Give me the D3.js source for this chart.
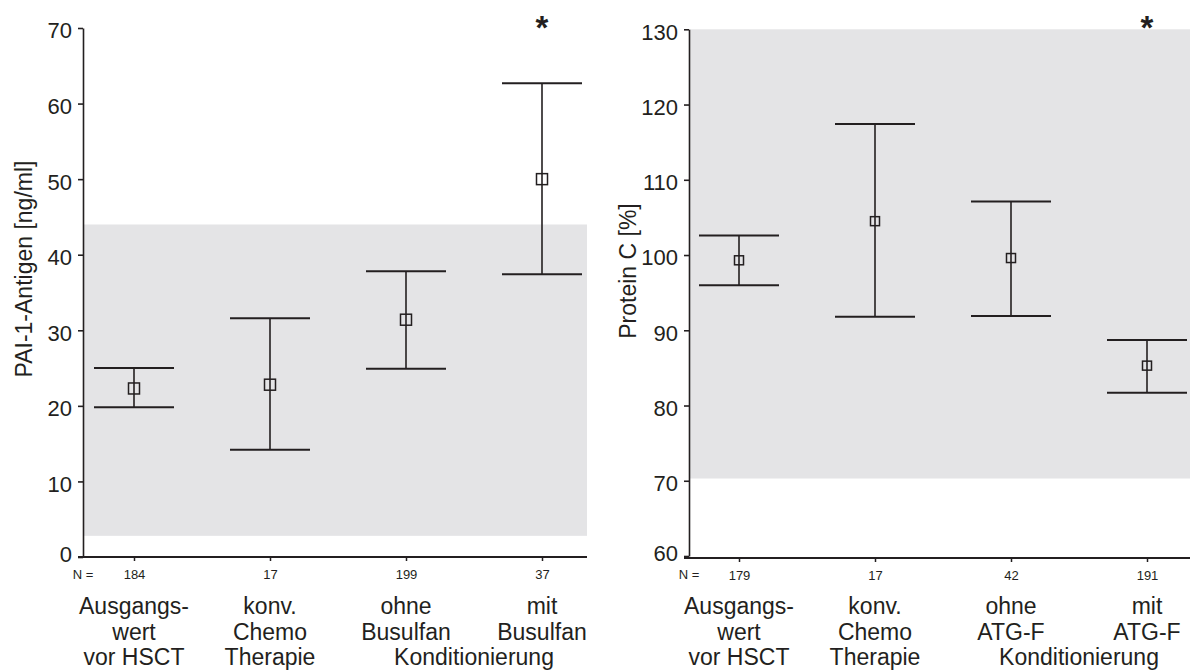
<!DOCTYPE html>
<html>
<head>
<meta charset="utf-8">
<script src="https://cdn.jsdelivr.net/npm/d3@7"></script>
<style>
  body { margin: 0; background: #fff; }
  text { font-family: "Liberation Sans", Arial, sans-serif; fill: #231f20; }
</style>
</head>
<body>
<div id="chart"></div>
<script>
// PAI-1-Antigen panel (left)
var paiCategories = ["ausgang", "chemo", "ohneBu", "mitBu"];
var paiN = [184, 17, 199, 37];
var paiMean = [22.3, 22.8, 31.4, 50.0];
var paiLower = [19.8, 14.2, 24.9, 37.4];
var paiUpper = [25.0, 31.6, 37.8, 62.7];
var paiNormal = [2.8, 44];
var paiTicks = [0, 10, 20, 30, 40, 50, 60, 70];
var paiLabels = [["Ausgangs-", "wert", "vor HSCT"], ["konv.", "Chemo", "Therapie"], ["ohne", "Busulfan"], ["mit", "Busulfan"]];

// Protein C panel (right)
var pcCategories = ["ausgang", "chemo", "ohneATG", "mitATG"];
var pcN = [179, 17, 42, 191];
var pcMean = [99.3, 104.5, 99.6, 85.3];
var pcLower = [96.0, 91.8, 91.9, 81.7];
var pcUpper = [102.6, 117.4, 107.1, 88.7];
var pcNormal = [70.3, 130];
var pcTicks = [60, 70, 80, 90, 100, 110, 120, 130];
var pcLabels = [["Ausgangs-", "wert", "vor HSCT"], ["konv.", "Chemo", "Therapie"], ["ohne", "ATG-F"], ["mit", "ATG-F"]];

var groupLabel = "Konditionierung";
var inkColor = "#231f20";
var bandColor = "#e4e4e6";

var svg = d3.select("#chart")
  .append("svg")
  .attr("width", 1190)
  .attr("height", 671);

function drawPanel(p) {
  var g = svg.append("g");

  var y = d3.scaleLinear()
    .domain([p.ticks[0], p.ticks[p.ticks.length - 1]])
    .range([p.yBottom, p.yTop]);

  var x = d3.scalePoint()
    .domain(p.categories)
    .range([p.firstX, p.lastX]);

  // reference range band
  g.append("rect")
    .attr("x", p.axisX)
    .attr("y", y(p.normal[1]))
    .attr("width", p.rightX - p.axisX)
    .attr("height", y(p.normal[0]) - y(p.normal[1]))
    .attr("fill", bandColor);

  // y axis
  var yAxis = g.append("g")
    .attr("transform", "translate(" + p.axisX + ",0)")
    .call(d3.axisLeft(y).tickValues(p.ticks).tickSize(5).tickSizeOuter(0).tickPadding(6));
  yAxis.selectAll("path, line").attr("stroke", inkColor).attr("stroke-width", 1.6);
  yAxis.selectAll("text")
    .attr("font-size", "22px")
    .attr("font-family", "Liberation Sans, Arial, sans-serif")
    .attr("fill", inkColor)
    .attr("dy", (d, i) => i == 0 ? "0.2em" : "0.45em");

  // x axis line (drawn full width) + N ticks
  g.append("line")
    .attr("x1", p.axisX - 5)
    .attr("x2", p.rightX)
    .attr("y1", p.xAxisY)
    .attr("y2", p.xAxisY)
    .attr("stroke", inkColor)
    .attr("stroke-width", 1.8);

  var xAxis = g.append("g")
    .attr("transform", "translate(0," + p.xAxisY + ")")
    .call(d3.axisBottom(x).tickSize(4).tickPadding(9)
      .tickFormat(function(d, i) { return p.n[i]; }));
  xAxis.select(".domain").remove();
  xAxis.selectAll("line").attr("stroke", inkColor).attr("stroke-width", 1.5);
  xAxis.selectAll("text")
    .attr("font-size", "13px")
    .attr("font-family", "Liberation Sans, Arial, sans-serif")
    .attr("fill", inkColor);

  g.append("text")
    .attr("x", p.axisX)
    .attr("y", 579)
    .attr("text-anchor", "middle")
    .attr("font-size", "13px")
    .text("N =");

  // y axis title
  g.append("text")
    .attr("transform", "rotate(-90)")
    .attr("x", -p.titleY)
    .attr("y", p.titleX)
    .attr("text-anchor", "middle")
    .attr("font-size", "23px")
    .text(p.title);

  // error bars
  var bars = g.selectAll(".bar")
    .data(p.categories)
    .enter()
    .append("g")
    .attr("class", "bar");

  bars.append("line")
    .attr("x1", d => x(d))
    .attr("x2", d => x(d))
    .attr("y1", (d, i) => y(p.upper[i]))
    .attr("y2", (d, i) => y(p.lower[i]))
    .attr("stroke", inkColor)
    .attr("stroke-width", 1.6);

  [p.upper, p.lower].forEach(function(vals) {
    bars.append("line")
      .attr("x1", d => x(d) - 40)
      .attr("x2", d => x(d) + 40)
      .attr("y1", (d, i) => y(vals[i]))
      .attr("y2", (d, i) => y(vals[i]))
      .attr("stroke", inkColor)
      .attr("stroke-width", 2);
  });

  bars.append("rect")
    .attr("x", d => x(d) - p.box / 2)
    .attr("y", (d, i) => y(p.mean[i]) - p.box / 2)
    .attr("width", p.box)
    .attr("height", p.box)
    .attr("fill", "none")
    .attr("stroke", inkColor)
    .attr("stroke-width", 1.5);

  // significance mark over last group
  g.append("text")
    .attr("x", x(p.categories[3]))
    .attr("y", 39)
    .attr("text-anchor", "middle")
    .attr("font-size", "33px")
    .attr("font-weight", 700)
    .text("*");

  // category labels
  var lineY = [614, 640, 665];
  p.labels.forEach(function(lines, i) {
    lines.forEach(function(s, j) {
      g.append("text")
        .attr("x", x(p.categories[i]))
        .attr("y", lineY[j])
        .attr("text-anchor", "middle")
        .attr("font-size", "23px")
        .text(s);
    });
  });
  g.append("text")
    .attr("x", (x(p.categories[2]) + x(p.categories[3])) / 2)
    .attr("y", lineY[2])
    .attr("text-anchor", "middle")
    .attr("font-size", "23px")
    .text(groupLabel);
}

drawPanel({
  categories: paiCategories, n: paiN, mean: paiMean, lower: paiLower, upper: paiUpper,
  normal: paiNormal, ticks: paiTicks, labels: paiLabels,
  title: "PAI-1-Antigen [ng/ml]",
  axisX: 83, rightX: 587, firstX: 134, lastX: 542,
  yBottom: 557, yTop: 28, xAxisY: 557,
  titleX: 32, titleY: 269, box: 11
});

drawPanel({
  categories: pcCategories, n: pcN, mean: pcMean, lower: pcLower, upper: pcUpper,
  normal: pcNormal, ticks: pcTicks, labels: pcLabels,
  title: "Protein C [%]",
  axisX: 689, rightX: 1190, firstX: 739, lastX: 1147,
  yBottom: 556, yTop: 29.3, xAxisY: 558,
  titleX: 636, titleY: 271, box: 9
});
</script>
</body>
</html>
